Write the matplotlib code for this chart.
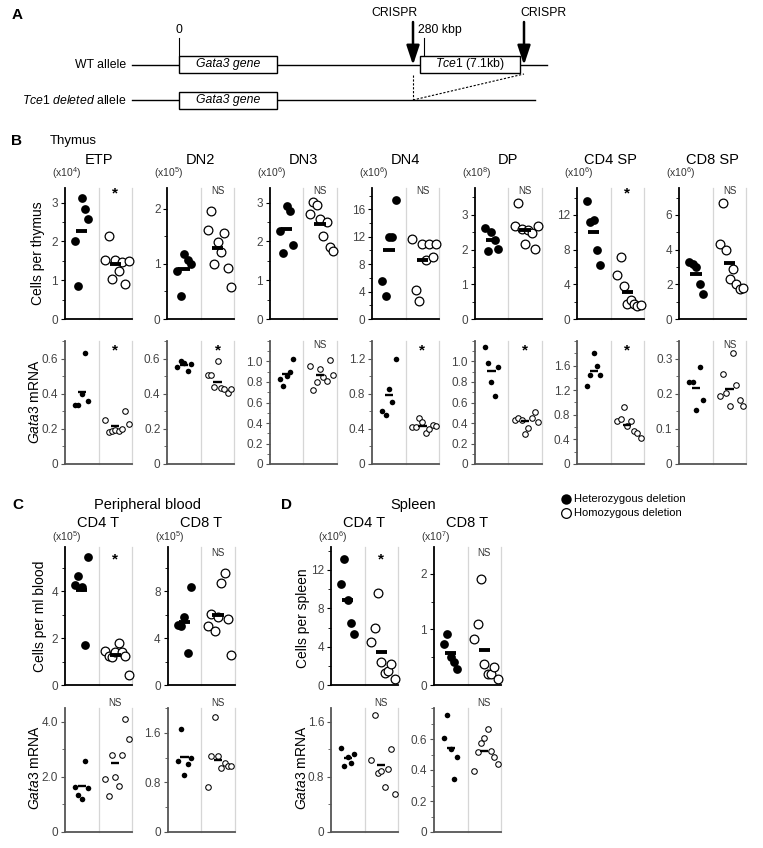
import numpy as np
import matplotlib.pyplot as plt
from matplotlib.patches import Rectangle
from matplotlib.ticker import MultipleLocator

plt.rcParams['font.family'] = ['Liberation Sans', 'DejaVu Sans']
plt.rcParams['mathtext.fontset'] = 'custom'
plt.rcParams['mathtext.rm'] = 'Liberation Sans'
plt.rcParams['mathtext.it'] = 'Liberation Sans:italic'
plt.rcParams['mathtext.bf'] = 'Liberation Sans:bold'

# ---- data: het = heterozygous deletion (filled), hom = homozygous deletion (open)
thymus_pops = ['ETP', 'DN2', 'DN3', 'DN4', 'DP', 'CD4 SP', 'CD8 SP']
thymus_scale = ['4', '5', '6', '6', '8', '6', '6']
thymus_cells_sig = ['*', 'NS', 'NS', 'NS', 'NS', '*', 'NS']
thymus_mrna_sig = ['*', '*', 'NS', '*', '*', '*', 'NS']

# cells per thymus
etp_cells_het = [2.02, 0.85, 3.12, 2.83, 2.57]
etp_cells_hom = [1.53, 2.14, 1.04, 1.51, 1.23, 1.46, 0.91, 1.49]
dn2_cells_het = [0.88, 0.42, 1.18, 1.08, 1.00]
dn2_cells_hom = [1.62, 1.96, 1.00, 1.39, 1.21, 1.57, 0.93, 0.59]
dn3_cells_het = [2.27, 1.69, 2.91, 2.78, 1.91]
dn3_cells_hom = [2.71, 3.02, 2.95, 2.57, 2.14, 2.50, 1.86, 1.76]
dn4_cells_het = [5.5, 3.4, 11.9, 11.9, 17.3]
dn4_cells_hom = [11.6, 4.3, 2.6, 10.9, 8.6, 10.9, 9.0, 11.0]
dp_cells_het = [2.63, 1.95, 2.49, 2.28, 2.02]
dp_cells_hom = [2.69, 3.35, 2.60, 2.16, 2.55, 2.47, 2.02, 2.67]
cd4sp_cells_het = [13.65, 11.2, 11.4, 7.97, 6.2]
cd4sp_cells_hom = [5.1, 7.2, 3.77, 1.78, 2.24, 1.78, 1.47, 1.59]
cd8sp_cells_het = [3.28, 3.19, 3.0, 2.04, 1.43]
cd8sp_cells_hom = [4.33, 6.67, 3.99, 2.29, 2.90, 2.0, 1.71, 1.81]

# Gata3 mRNA, thymus
etp_mrna_het = [0.334, 0.334, 0.396, 0.630, 0.357]
etp_mrna_hom = [0.253, 0.183, 0.187, 0.196, 0.187, 0.202, 0.300, 0.225]
dn2_mrna_het = [0.551, 0.585, 0.574, 0.532, 0.570]
dn2_mrna_hom = [0.509, 0.504, 0.438, 0.589, 0.434, 0.428, 0.406, 0.425]
dn3_mrna_het = [0.829, 0.765, 0.855, 0.900, 1.023]
dn3_mrna_hom = [0.952, 0.723, 0.800, 0.929, 0.845, 0.813, 1.013, 0.871]
dn4_mrna_het = [0.604, 0.555, 0.849, 0.706, 1.196]
dn4_mrna_hom = [0.423, 0.423, 0.525, 0.479, 0.355, 0.396, 0.449, 0.430]
dp_mrna_het = [1.139, 0.984, 0.800, 0.660, 0.951]
dp_mrna_hom = [0.434, 0.450, 0.434, 0.291, 0.350, 0.450, 0.511, 0.405]
cd4sp_mrna_het = [1.267, 1.449, 1.807, 1.599, 1.449]
cd4sp_mrna_hom = [0.706, 0.727, 0.920, 0.610, 0.706, 0.529, 0.503, 0.422]
cd8sp_mrna_het = [0.232, 0.232, 0.153, 0.277, 0.181]
cd8sp_mrna_hom = [0.194, 0.256, 0.202, 0.166, 0.315, 0.226, 0.183, 0.166]

# peripheral blood
pb_cd4_cells_het = [4.26, 4.68, 4.18, 1.70, 5.47]
pb_cd4_cells_hom = [1.46, 1.25, 1.18, 1.39, 1.79, 1.42, 1.25, 0.44]
pb_cd8_cells_het = [5.17, 5.03, 5.79, 2.71, 8.36]
pb_cd8_cells_hom = [5.03, 6.10, 4.66, 5.82, 8.75, 9.6, 5.68, 2.57]
pb_cd4_mrna_het = [1.64, 1.36, 1.21, 2.57, 1.61]
pb_cd4_mrna_hom = [1.92, 1.32, 2.78, 2.00, 1.68, 2.78, 4.11, 3.39]
pb_cd8_mrna_het = [1.143, 1.659, 0.923, 1.10, 1.19]
pb_cd8_mrna_hom = [0.725, 1.22, 1.86, 1.22, 1.04, 1.12, 1.06, 1.06]

# spleen
sp_cd4_cells_het = [10.5, 13.2, 8.84, 6.5, 5.34]
sp_cd4_cells_hom = [4.45, 5.93, 9.55, 2.35, 1.29, 1.47, 2.18, 0.6]
sp_cd8_cells_het = [0.74, 0.92, 0.50, 0.41, 0.29]
sp_cd8_cells_hom = [0.83, 1.10, 1.91, 0.38, 0.19, 0.20, 0.33, 0.11]
sp_cd4_mrna_het = [1.214, 0.956, 1.083, 1.005, 1.126]
sp_cd4_mrna_hom = [1.044, 1.70, 0.859, 0.884, 0.655, 0.92, 1.211, 0.545]
sp_cd8_mrna_het = [0.606, 0.757, 0.535, 0.342, 0.484]
sp_cd8_mrna_hom = [0.396, 0.516, 0.574, 0.606, 0.665, 0.52, 0.484, 0.441]

thymus_cells_het = [etp_cells_het, dn2_cells_het, dn3_cells_het, dn4_cells_het,
                    dp_cells_het, cd4sp_cells_het, cd8sp_cells_het]
thymus_cells_hom = [etp_cells_hom, dn2_cells_hom, dn3_cells_hom, dn4_cells_hom,
                    dp_cells_hom, cd4sp_cells_hom, cd8sp_cells_hom]
thymus_mrna_het = [etp_mrna_het, dn2_mrna_het, dn3_mrna_het, dn4_mrna_het,
                   dp_mrna_het, cd4sp_mrna_het, cd8sp_mrna_het]
thymus_mrna_hom = [etp_mrna_hom, dn2_mrna_hom, dn3_mrna_hom, dn4_mrna_hom,
                   dp_mrna_hom, cd4sp_mrna_hom, cd8sp_mrna_hom]

# axis scales
thymus_cells_ymax = [3.38, 2.38, 3.38, 19.1, 3.77, 15.1, 7.55]
thymus_cells_ticks = [[0, 1, 2, 3], [0, 1, 2], [0, 1, 2, 3], [0, 4, 8, 12, 16],
                      [0, 1, 2, 3], [0, 4, 8, 12], [0, 2, 4, 6]]
thymus_cells_minor = [0.5, 0.5, 0.5, 2, 0.5, 2, 1]
thymus_mrna_ymax = [0.7, 0.7, 1.2, 1.4, 1.2, 2.0, 0.35]
thymus_mrna_ticks = [[0, 0.2, 0.4, 0.6], [0, 0.2, 0.4, 0.6], [0, 0.2, 0.4, 0.6, 0.8, 1.0],
                     [0, 0.4, 0.8, 1.2], [0, 0.2, 0.4, 0.6, 0.8, 1.0],
                     [0, 0.4, 0.8, 1.2, 1.6], [0, 0.1, 0.2, 0.3]]
thymus_mrna_labels = [['0', '0.2', '0.4', '0.6'], ['0', '0.2', '0.4', '0.6'],
                      ['0', '0.2', '0.4', '0.6', '0.8', '1.0'], ['0', '0.4', '0.8', '1.2'],
                      ['0', '0.2', '0.4', '0.6', '0.8', '1.0'], ['0', '0.4', '0.8', '1.2', '1.6'],
                      ['0', '0.1', '0.2', '0.3']]
thymus_mrna_minor = [0.1, 0.1, 0.1, 0.2, 0.1, 0.2, 0.05]

W, H = 763, 848
fig = plt.figure(figsize=(W / 100, H / 100), dpi=100)


def fx(x):
    return x / W


def fy(y):
    return 1 - y / H


def add_ax(left, top, bottom, width=67):
    return fig.add_axes([fx(left), fy(bottom), width / W, (bottom - top) / H])


def ftext(x, y, s, **kw):
    kw.setdefault('ha', 'center')
    kw.setdefault('va', 'center')
    fig.text(fx(x), fy(y), s, **kw)


def panel(ax, het, hom, ymax, ticks, labels, minor, sig, sig_y, big, scol):
    ms = 6.3 if big else 4.0
    half = 0.17 if big else 0.125
    blw = 2.8 if big else 1.7
    ax.set_xlim(0, 2)
    ax.set_ylim(0, ymax)
    for g in (1, 2):
        ax.axvline(g, color='#d6d6d6', lw=0.9, zorder=0, clip_on=False)
    ax.plot(0.3 + 0.1 * np.arange(len(het)), het, 'o', ms=ms, color='black',
            mew=0, zorder=3, clip_on=False)
    ax.plot(1.2 + 0.1 * np.arange(len(hom)), hom, 'o', ms=ms, mfc='white',
            mec='black', mew=0.9 if big else 0.75, zorder=3, clip_on=False)
    ax.hlines(np.mean(het), 0.5 - half, 0.5 + half, color='black', lw=blw, zorder=4)
    ax.hlines(np.mean(hom), 1.5 - half, 1.5 + half, color='black', lw=blw, zorder=4)
    ax.set_yticks(ticks)
    ax.set_yticklabels(labels if labels else [str(t) for t in ticks])
    ax.yaxis.set_minor_locator(MultipleLocator(minor))
    ax.set_xticks([])
    ax.tick_params(axis='y', which='major', length=3, width=0.8, color=scol,
                   labelsize=8.5, labelcolor='#444444', pad=2)
    ax.tick_params(axis='y', which='minor', length=2, width=0.6, color=scol)
    for s in ('top', 'right'):
        ax.spines[s].set_visible(False)
    for s in ('left', 'bottom'):
        ax.spines[s].set_color(scol)
        ax.spines[s].set_linewidth(1.3)
    ax.patch.set_alpha(0)
    if sig == '*':
        ax.text(1.5, sig_y - 0.02, '*', transform=ax.get_xaxis_transform(),
                ha='center', va='center', fontsize=11, fontweight='bold', clip_on=False)
    else:
        ax.text(1.5, sig_y, 'NS', transform=ax.get_xaxis_transform(),
                ha='center', va='center', fontsize=7, color='#333333', clip_on=False)


# ---- panel A: allele schematic, drawn in pixel space
axA = fig.add_axes([0, 0, 1, 1], zorder=-1)
axA.set_xlim(0, W)
axA.set_ylim(H, 0)
axA.axis('off')
fs_a = 8.8
ftext(17, 15, 'A', fontsize=11, fontweight='bold')
axA.plot([132, 547], [64.5, 64.5], color='black', lw=1)
axA.plot([132, 535], [100, 100], color='black', lw=1)
for (x0, x1, y0, y1) in [(178.5, 277, 56, 73), (178.5, 277, 92, 108.5)]:
    axA.add_patch(Rectangle((x0, y0), x1 - x0, y1 - y0, fc='white', ec='black', lw=1, zorder=3))
    axA.text((x0 + x1) / 2, (y0 + y1) / 2, 'Gata3 gene', style='italic', fontsize=fs_a,
             ha='center', va='center', zorder=4)
axA.add_patch(Rectangle((420, 56), 100, 17, fc='white', ec='black', lw=1, zorder=3))
axA.text(470, 64.5, r'$\it{Tce1}$ (7.1kb)', fontsize=fs_a, ha='center', va='center', zorder=4)
axA.plot([178.5, 178.5], [38, 56], color='black', lw=0.8)
axA.text(178.5, 30, '0', fontsize=fs_a, ha='center', va='center')
axA.plot([423.5, 423.5], [38, 56], color='black', lw=0.8)
axA.text(418, 30, '280 kbp', fontsize=fs_a, ha='left', va='center')
for xa, xl in [(413, 394), (524, 543)]:
    axA.annotate('', xy=(xa, 65), xytext=(xa, 22),
                 arrowprops=dict(arrowstyle='-|>,head_width=0.3,head_length=0.9',
                                 mutation_scale=13, lw=1.8, color='black',
                                 shrinkA=0, shrinkB=0))
    axA.text(xl, 13, 'CRISPR', fontsize=fs_a, ha='center', va='center')
axA.plot([413, 413], [75, 100], color='black', lw=0.8, ls=(0, (2, 1.5)))
axA.plot([413, 524], [100, 74], color='black', lw=0.8, ls=(0, (2, 1.5)))
axA.text(126, 64.5, 'WT allele', fontsize=fs_a, ha='right', va='center')
axA.text(126, 100, r'$\it{Tce1\ deleted}$ allele', fontsize=fs_a, ha='right', va='center')

# legend
axA.plot([566], [498.5], 'o', ms=7.5, color='black', mew=0)
axA.plot([566], [513], 'o', ms=7, mfc='white', mec='black', mew=0.9)
axA.text(574, 498.5, 'Heterozygous deletion', fontsize=8, ha='left', va='center')
axA.text(574, 513, 'Homozygous deletion', fontsize=8, ha='left', va='center')

# ---- panel B: thymus
ftext(17, 141, 'B', fontsize=11, fontweight='bold')
ftext(50, 141, 'Thymus', fontsize=9.5, ha='left')
ftext(38, 253, 'Cells per thymus', fontsize=10, rotation=90)
ftext(35, 402, r'$\it{Gata3}$ mRNA', fontsize=10, rotation=90)
for i in range(7):
    left = 65 + 102.4 * i
    ftext(left + 33.5, 160, thymus_pops[i], fontsize=10.5)
    ftext(left - 13, 173, '(x10$^{%s}$)' % thymus_scale[i], fontsize=7.5, ha='left', color='#333333')
    ax = add_ax(left, 188, 319)
    panel(ax, thymus_cells_het[i], thymus_cells_hom[i], thymus_cells_ymax[i],
          thymus_cells_ticks[i], None, thymus_cells_minor[i], thymus_cells_sig[i],
          0.98, True, 'black')
    ax = add_ax(left, 341, 464)
    panel(ax, thymus_mrna_het[i], thymus_mrna_hom[i], thymus_mrna_ymax[i],
          thymus_mrna_ticks[i], thymus_mrna_labels[i], thymus_mrna_minor[i],
          thymus_mrna_sig[i], 0.94 if thymus_mrna_sig[i] == '*' else 0.97, False, '#555555')

# ---- panels C and D
ftext(18, 505, 'C', fontsize=11, fontweight='bold')
ftext(286, 505, 'D', fontsize=11, fontweight='bold')
ftext(147, 505, 'Peripheral blood', fontsize=10.5)
ftext(413, 505, 'Spleen', fontsize=10.5)
ftext(40, 616, 'Cells per ml blood', fontsize=10, rotation=90)
ftext(303, 618, 'Cells per spleen', fontsize=10, rotation=90)
ftext(35, 768, r'$\it{Gata3}$ mRNA', fontsize=10, rotation=90)
ftext(302, 768, r'$\it{Gata3}$ mRNA', fontsize=10, rotation=90)

cd_specs = [
    # left, title, scale, cells het/hom, ymax, ticks, minor, sig, mrna het/hom, ymax, ticks, labels, minor
    (65, 'CD4 T', '5', pb_cd4_cells_het, pb_cd4_cells_hom, 5.9, [0, 2, 4], 1, '*',
     pb_cd4_mrna_het, pb_cd4_mrna_hom, 4.5, [0, 2, 4], ['0', '2.0', '4.0'], 1),
    (167.7, 'CD8 T', '5', pb_cd8_cells_het, pb_cd8_cells_hom, 11.8, [0, 4, 8], 2, 'NS',
     pb_cd8_mrna_het, pb_cd8_mrna_hom, 2.0, [0, 0.8, 1.6], ['0', '0.8', '1.6'], 0.4),
    (331, 'CD4 T', '6', sp_cd4_cells_het, sp_cd4_cells_hom, 14.4, [0, 4, 8, 12], 2, '*',
     sp_cd4_mrna_het, sp_cd4_mrna_hom, 1.8, [0, 0.8, 1.6], ['0', '0.8', '1.6'], 0.4),
    (434, 'CD8 T', '7', sp_cd8_cells_het, sp_cd8_cells_hom, 2.48, [0, 1, 2], 0.5, 'NS',
     sp_cd8_mrna_het, sp_cd8_mrna_hom, 0.8, [0, 0.2, 0.4, 0.6], ['0', '0.2', '0.4', '0.6'], 0.1),
]
for (left, title, scale, ch, co, cy, ct, cm, csig, mh, mo, my, mt, ml, mm) in cd_specs:
    ftext(left + 33.5, 523, title, fontsize=10.5)
    ftext(left - 13, 537, '(x10$^{%s}$)' % scale, fontsize=7.5, ha='left', color='#333333')
    ax = add_ax(left, 547, 685)
    panel(ax, ch, co, cy, ct, None, cm, csig, 0.93 if csig == '*' else 0.96, True, 'black')
    ax = add_ax(left, 708, 832)
    panel(ax, mh, mo, my, mt, ml, mm, 'NS', 1.04, False, '#555555')

fig.savefig('out.png', dpi=100)
